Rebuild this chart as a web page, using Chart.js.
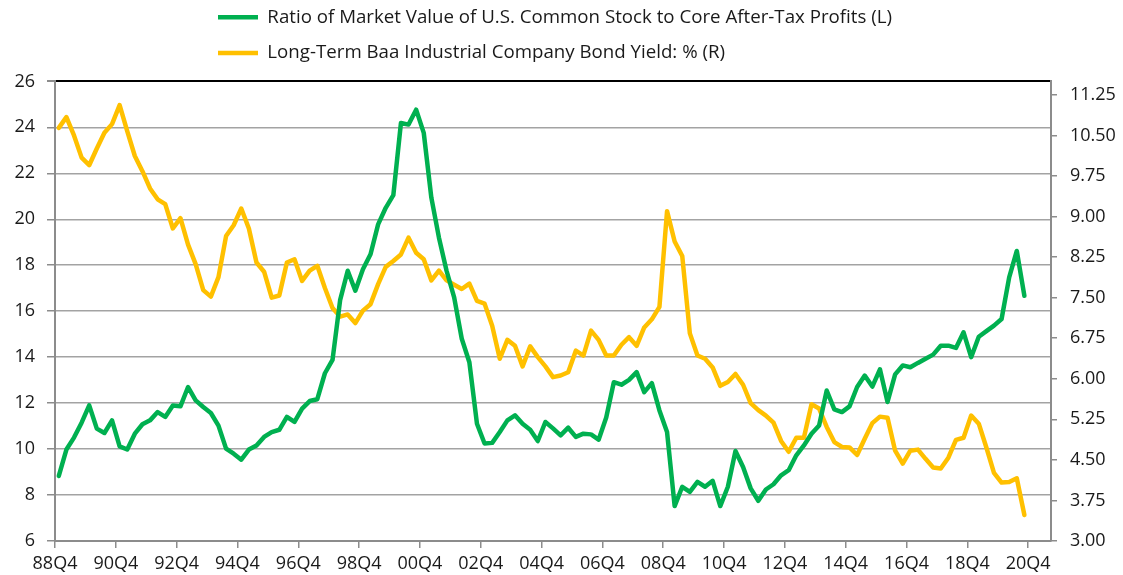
<!DOCTYPE html>
<html>
<head>
<meta charset="utf-8">
<script src="https://cdn.jsdelivr.net/npm/chart.js@4.4.1/dist/chart.umd.min.js"></script>
<style>
    html, body { margin: 0; padding: 0; background: #fff; }
    #wrap { width: 1123px; height: 575px; }
</style>
</head>
<body>
<div id="wrap"><canvas id="valuationChart" width="1123" height="575"></canvas></div>
<script>
// --- DATA ---
const firstYear = 1988;   // series start at 88Q4
const firstQuarter = 4;
const quarterCount = 131; // 88Q4 .. 21Q2 on the axis

const xTickLabels = ['88Q4', '90Q4', '92Q4', '94Q4', '96Q4', '98Q4', '00Q4', '02Q4', '04Q4',
    '06Q4', '08Q4', '10Q4', '12Q4', '14Q4', '16Q4', '18Q4', '20Q4'];
const leftTicks = [6, 8, 10, 12, 14, 16, 18, 20, 22, 24, 26];
const rightTicks = [3.00, 3.75, 4.50, 5.25, 6.00, 6.75, 7.50, 8.25, 9.00, 9.75, 10.50, 11.25];

// Ratio of market value of US common stock to core after-tax profits (L)
const stockToProfits = [
    8.83, 9.98, 10.5, 11.15, 11.9, 10.89, 10.7, 11.25, 10.12, 9.98,
    10.67, 11.08, 11.25, 11.61, 11.4, 11.9, 11.86, 12.7, 12.12, 11.83,
    11.57, 11.02, 10.02, 9.8, 9.54, 9.98, 10.16, 10.53, 10.74, 10.84,
    11.4, 11.18, 11.76, 12.09, 12.17, 13.3, 13.88, 16.48, 17.76, 16.89,
    17.83, 18.48, 19.78, 20.5, 21.05, 24.19, 24.12, 24.77, 23.76, 20.94,
    19.2, 17.76, 16.6, 14.8, 13.78, 11.1, 10.24, 10.27, 10.74, 11.25,
    11.47, 11.1, 10.84, 10.35, 11.18, 10.9, 10.6, 10.93, 10.53, 10.67,
    10.64, 10.41, 11.37, 12.91, 12.8, 13.01, 13.35, 12.48, 12.87, 11.68,
    10.74, 7.52, 8.36, 8.14, 8.57, 8.36, 8.62, 7.52, 8.36, 9.92,
    9.22, 8.29, 7.75, 8.24, 8.47, 8.86, 9.08, 9.73, 10.16, 10.67,
    11.03, 12.55, 11.73, 11.61, 11.86, 12.7, 13.2, 12.72, 13.47, 12.05,
    13.25, 13.64, 13.56, 13.75, 13.93, 14.11, 14.5, 14.5, 14.4, 15.08,
    14.0, 14.89, 15.13, 15.37, 15.66, 17.47, 18.62, 16.67
];

// Long-term Baa industrial company bond yield, % (R)
const baaYield = [
    10.64, 10.84, 10.5, 10.09, 9.95, 10.26, 10.55, 10.71, 11.06, 10.58,
    10.12, 9.84, 9.52, 9.32, 9.23, 8.78, 8.97, 8.48, 8.12, 7.64,
    7.52, 7.88, 8.64, 8.84, 9.15, 8.78, 8.15, 7.98, 7.5, 7.54,
    8.15, 8.21, 7.81, 8.0, 8.09, 7.68, 7.31, 7.15, 7.19, 7.03,
    7.26, 7.38, 7.75, 8.07, 8.18, 8.3, 8.61, 8.33, 8.21, 7.82,
    8.0, 7.82, 7.74, 7.66, 7.76, 7.44, 7.39, 6.98, 6.37, 6.72,
    6.61, 6.23, 6.6, 6.4, 6.23, 6.03, 6.06, 6.12, 6.52, 6.43,
    6.89, 6.72, 6.43, 6.43, 6.63, 6.77, 6.61, 6.95, 7.1, 7.33,
    9.1, 8.54, 8.27, 6.84, 6.43, 6.37, 6.21, 5.87, 5.94, 6.09,
    5.89, 5.55, 5.42, 5.32, 5.19, 4.85, 4.65, 4.91, 4.91, 5.53,
    5.45, 5.11, 4.83, 4.74, 4.73, 4.59, 4.89, 5.18, 5.3, 5.28,
    4.67, 4.43, 4.67, 4.69, 4.52, 4.36, 4.34, 4.54, 4.87, 4.91,
    5.32, 5.17, 4.73, 4.26, 4.08, 4.09, 4.16, 3.48
];

const GREEN = '#00b050';
const GOLD = '#ffc000';
const GRID = '#a3a3a3';
const AXIS = '#8c8c8c';
const TEXT = '#1a1a1a';
const FONT = { family: 'Open Sans', size: 18 };

// each quarter sits in the middle of its slot on the time axis
function toPoints(values) {
    return values.map((v, i) => ({ x: i + 0.5, y: v }));
}

// nudge the legend so both rows start at the same x, like the original
const legendShift = {
    id: 'legendShift',
    afterLayout(chart) {
        const lg = chart.legend;
        if (!lg) return;
        lg.left = 201;
        lg.top = -9;
    }
};

document.addEventListener('DOMContentLoaded', function () {
    const ctx = document.getElementById('valuationChart');

    new Chart(ctx.getContext('2d'), {
        type: 'line',
        data: {
            datasets: [
                {
                    label: 'Ratio of Market Value of U.S. Common Stock to Core After-Tax Profits (L)',
                    data: toPoints(stockToProfits),
                    yAxisID: 'yL',
                    borderColor: GREEN,
                    backgroundColor: GREEN,
                    borderWidth: 4.5,
                    borderJoinStyle: 'round',
                    borderCapStyle: 'round',
                    pointRadius: 0,
                    tension: 0,
                    fill: false
                },
                {
                    label: 'Long-Term Baa Industrial Company Bond Yield: % (R)',
                    data: toPoints(baaYield),
                    yAxisID: 'yR',
                    borderColor: GOLD,
                    backgroundColor: GOLD,
                    borderWidth: 4.5,
                    borderJoinStyle: 'round',
                    borderCapStyle: 'round',
                    pointRadius: 0,
                    tension: 0,
                    fill: false
                }
            ]
        },
        options: {
            responsive: false,
            animation: false,
            layout: { padding: 0 },
            plugins: {
                tooltip: { enabled: false },
                legend: {
                    position: 'top',
                    align: 'start',
                    labels: {
                        usePointStyle: true,
                        pointStyle: 'line',
                        pointStyleWidth: 40,
                        boxWidth: 40,
                        padding: 17,
                        color: TEXT,
                        font: { family: 'Open Sans', size: 18.7 }
                    }
                }
            },
            scales: {
                x: {
                    type: 'linear',
                    min: 0,
                    max: quarterCount,
                    afterFit: (s) => { s.height = 34; },
                    afterBuildTicks: (s) => {
                        s.ticks = xTickLabels.map((_, k) => ({ value: k * 8 }));
                    },
                    ticks: {
                        stepSize: 8,
                        autoSkip: false,
                        maxRotation: 0,
                        padding: 5,
                        color: TEXT,
                        font: FONT,
                        callback: (v) => xTickLabels[Math.round(v / 8)]
                    },
                    grid: { drawOnChartArea: false, tickLength: 7, color: AXIS, lineWidth: 1.5 },
                    border: { color: AXIS, width: 2 }
                },
                yL: {
                    position: 'left',
                    min: leftTicks[0],
                    max: leftTicks[leftTicks.length - 1],
                    afterFit: (s) => { s.width = 55; },
                    afterBuildTicks: (s) => { s.ticks = leftTicks.map(v => ({ value: v })); },
                    ticks: { stepSize: 2, padding: 12, color: TEXT, font: FONT },
                    grid: {
                        color: (c) => (c.tick && c.tick.value === 26 ? '#000' : GRID),
                        lineWidth: (c) => (c.tick && c.tick.value === 26 ? 2 : 1.5),
                        tickColor: AXIS,
                        tickLength: 8
                    },
                    border: { color: AXIS, width: 2 }
                },
                yR: {
                    position: 'right',
                    min: 3,
                    max: 11.5,
                    afterFit: (s) => { s.width = 72; },
                    afterBuildTicks: (s) => { s.ticks = rightTicks.map(v => ({ value: v })); },
                    ticks: {
                        stepSize: 0.75,
                        includeBounds: false,
                        padding: 13,
                        color: TEXT,
                        font: FONT,
                        callback: (v) => Number(v).toFixed(2)
                    },
                    grid: { drawOnChartArea: false, tickLength: 6, color: AXIS, lineWidth: 1.5 },
                    border: { color: AXIS, width: 2 }
                }
            }
        },
        plugins: [legendShift]
    });
});
</script>
</body>
</html>
